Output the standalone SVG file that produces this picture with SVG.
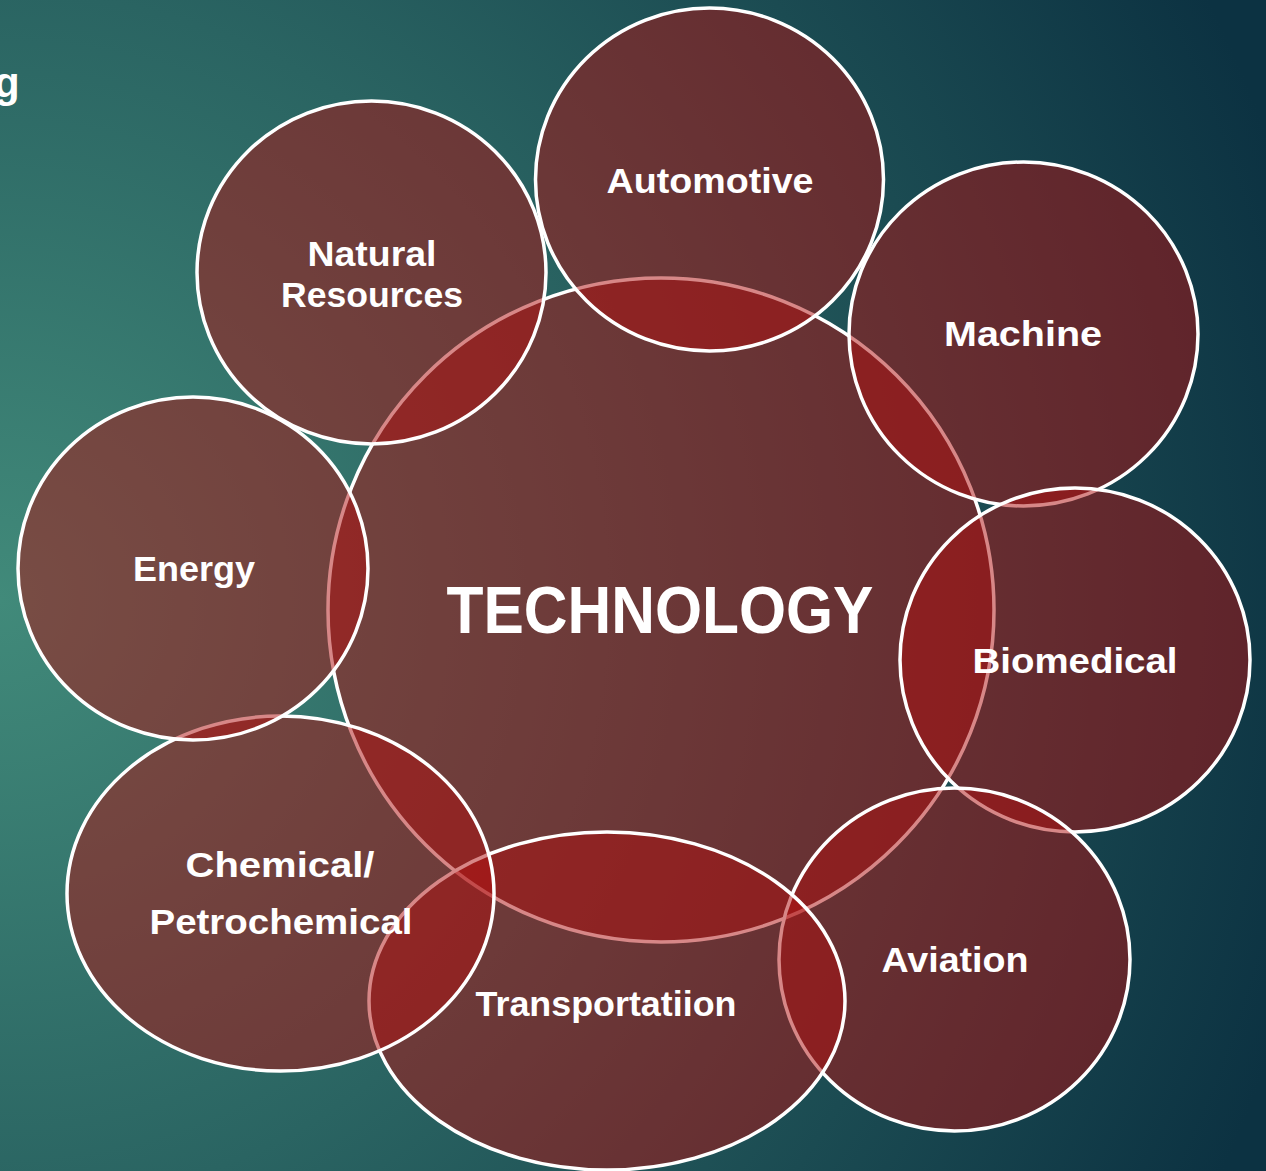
<svg xmlns="http://www.w3.org/2000/svg" width="1266" height="1171" viewBox="0 0 1266 1171">
<defs>
<radialGradient id="bg" cx="0" cy="600" r="1350" gradientUnits="userSpaceOnUse">
<stop offset="0" stop-color="#418a7a"/>
<stop offset="0.45" stop-color="#2a6462"/>
<stop offset="1" stop-color="#0c3242"/>
</radialGradient>
<style>
.c{fill:rgb(175,16,16);fill-opacity:0.5;stroke:#fff;stroke-width:3.5}
.t{font-family:"Liberation Sans",Arial,sans-serif;font-weight:bold;fill:#fff;text-anchor:middle;font-size:35px}
</style>
</defs>
<rect width="1266" height="1171" fill="url(#bg)"/>
<text x="-6" y="97" class="t" style="text-anchor:start;font-size:42px">g</text>
<g id="technology"><ellipse class="c" cx="661" cy="610" rx="333" ry="332"/></g>
<g id="automotive"><ellipse class="c" cx="709.5" cy="179.5" rx="174" ry="171.5"/></g>
<g id="machine"><ellipse class="c" cx="1023.5" cy="334" rx="174.5" ry="172"/></g>
<g id="biomedical"><ellipse class="c" cx="1075" cy="660" rx="175" ry="172"/></g>
<g id="aviation"><ellipse class="c" cx="954.5" cy="959.5" rx="175.5" ry="171.5"/></g>
<g id="transportation"><ellipse class="c" cx="607" cy="1001" rx="238" ry="169"/></g>
<g id="chemical"><ellipse class="c" cx="280.5" cy="893.5" rx="213.5" ry="177.5"/></g>
<g id="energy"><ellipse class="c" cx="193" cy="568.5" rx="175" ry="171.5"/></g>
<g id="natural-resources"><ellipse class="c" cx="371.5" cy="272.5" rx="174.5" ry="171.5"/></g>
<g id="connectors"></g>
<g id="labels">
<text class="t" x="660" y="633" style="font-size:66px" textLength="427" lengthAdjust="spacingAndGlyphs">TECHNOLOGY</text>
<text class="t" x="710" y="193" textLength="207" lengthAdjust="spacingAndGlyphs">Automotive</text>
<text class="t" x="372" y="266" textLength="129" lengthAdjust="spacingAndGlyphs">Natural</text>
<text class="t" x="372" y="307" textLength="182" lengthAdjust="spacingAndGlyphs">Resources</text>
<text class="t" x="1023" y="346" textLength="158" lengthAdjust="spacingAndGlyphs">Machine</text>
<text class="t" x="194" y="581" textLength="122" lengthAdjust="spacingAndGlyphs">Energy</text>
<text class="t" x="1075" y="673" textLength="205" lengthAdjust="spacingAndGlyphs">Biomedical</text>
<text class="t" x="955" y="972" textLength="147" lengthAdjust="spacingAndGlyphs">Aviation</text>
<text class="t" x="280" y="877" textLength="189" lengthAdjust="spacingAndGlyphs">Chemical/</text>
<text class="t" x="281" y="934" textLength="263" lengthAdjust="spacingAndGlyphs">Petrochemical</text>
<text class="t" x="606" y="1016" textLength="261" lengthAdjust="spacingAndGlyphs">Transportatiion</text>
</g>
</svg>
